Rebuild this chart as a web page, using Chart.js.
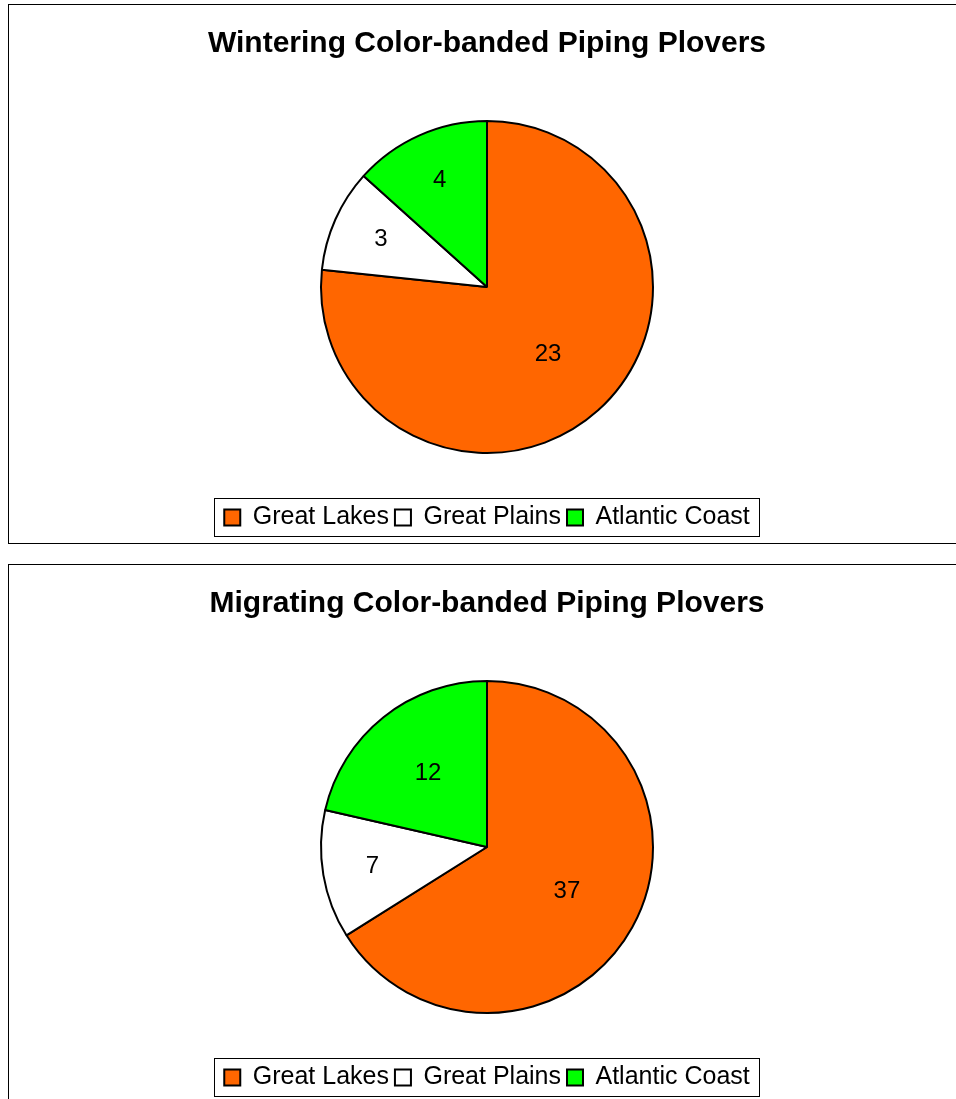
<!DOCTYPE html>
<html>
<head>
<meta charset="utf-8">
<script src="https://cdn.jsdelivr.net/npm/chart.js@4.4.0/dist/chart.umd.min.js"></script>
<style>
    html, body { margin: 0; padding: 0; background: #fff; overflow: hidden; }
    .box {
        position: absolute;
        left: 8px;
        width: 958px;
        height: 540px;
        box-sizing: border-box;
        border: 1px solid #000;
        background: #fff;
    }
    .box canvas { display: block; }
</style>
</head>
<body>
<div class="box" style="top:4px"><canvas id="winter" width="956" height="538"></canvas></div>
<div class="box" style="top:564px"><canvas id="migrate" width="956" height="538"></canvas></div>
<script>
const regions = ["Great Lakes", "Great Plains", "Atlantic Coast"];
const winteringCounts = [23, 3, 4];
const migratingCounts = [37, 7, 12];
const sliceColors = ["#FF6600", "#FFFFFF", "#00FF00"];

const FONT = "Arial, 'Liberation Sans', sans-serif";

// value labels inside each slice, placed along the slice's mid angle
const sliceLabels = {
    id: "sliceLabels",
    afterDatasetsDraw(chart) {
        const ctx = chart.ctx;
        const meta = chart.getDatasetMeta(0);
        const values = chart.data.datasets[0].data;
        ctx.save();
        ctx.font = "24px " + FONT;
        ctx.fillStyle = "#000";
        ctx.textAlign = "center";
        ctx.textBaseline = "middle";
        meta.data.forEach((arc, i) => {
            const p = arc.getProps(["x", "y", "startAngle", "endAngle", "outerRadius"], true);
            const span = p.endAngle - p.startAngle;
            const mid = p.startAngle + span / 2;
            let k = 0.57;
            if (span > Math.PI) k = 0.55;
            else if (span < Math.PI / 3) k = 0.7;
            const r = p.outerRadius * k;
            ctx.fillText(String(values[i]), p.x + Math.cos(mid) * r, p.y + Math.sin(mid) * r);
        });
        ctx.restore();
    }
};

// thin frame round the legend, like the spreadsheet legend
const legendFrame = {
    id: "legendFrame",
    afterDraw(chart) {
        const boxes = chart.legend && chart.legend.legendHitBoxes;
        if (!boxes || !boxes.length) return;
        let left = Infinity, right = -Infinity, top = Infinity, bottom = -Infinity;
        boxes.forEach(b => {
            left = Math.min(left, b.left);
            right = Math.max(right, b.left + b.width);
            top = Math.min(top, b.top);
            bottom = Math.max(bottom, b.top + b.height);
        });
        const ctx = chart.ctx;
        ctx.save();
        ctx.strokeStyle = "#000";
        ctx.lineWidth = 1;
        ctx.strokeRect(Math.round(left - 10) + 0.5, Math.round(top - 7) + 0.5,
            Math.round(right - left + 20), Math.round(bottom - top + 13));
        ctx.restore();
    }
};

function plovers(id, title, counts) {
    return new Chart(document.getElementById(id), {
        type: "pie",
        data: {
            labels: regions,
            datasets: [{
                data: counts,
                backgroundColor: sliceColors,
                borderColor: "#000",
                borderWidth: 2
            }]
        },
        options: {
            responsive: false,
            animation: false,
            radius: 166,
            layout: { padding: { top: 0, bottom: 3, left: 0, right: 0 } },
            plugins: {
                tooltip: { enabled: false },
                title: {
                    display: true,
                    text: title,
                    color: "#000",
                    font: { family: FONT, size: 30, weight: "bold", lineHeight: 1.2 },
                    padding: { top: 21, bottom: 13 }
                },
                legend: {
                    position: "bottom",
                    labels: {
                        color: "#000",
                        font: { family: FONT, size: 25 },
                        boxWidth: 16,
                        boxHeight: 16,
                        padding: 6
                    }
                }
            }
        },
        plugins: [sliceLabels, legendFrame]
    });
}

plovers("winter", "Wintering Color-banded Piping Plovers", winteringCounts);
plovers("migrate", "Migrating Color-banded Piping Plovers", migratingCounts);
</script>
</body>
</html>
